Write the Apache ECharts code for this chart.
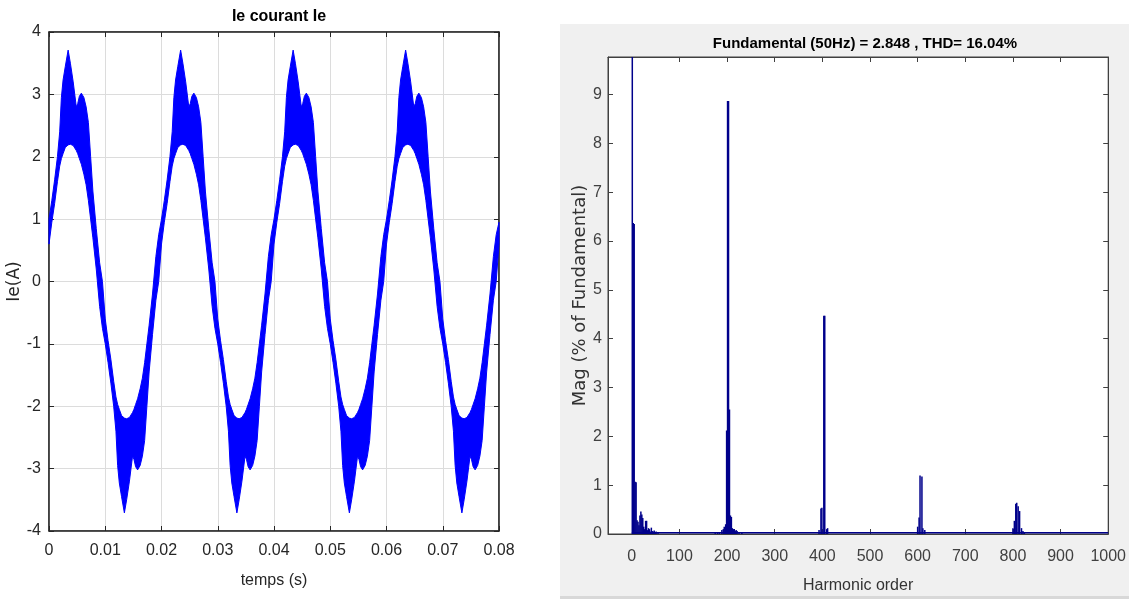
<!DOCTYPE html>
<html>
<head>
<meta charset="utf-8">
<script src="https://cdn.jsdelivr.net/npm/echarts@6/dist/echarts.min.js"></script>
<style>
  html, body {margin: 0; padding: 0; background: #fff;}
  #main {width: 1129px; height: 599px;}
</style>
</head>
<body>
<div id="main"></div>
<script>
// one 20 ms cycle of the current envelope (upper / lower edge of the ripple band)
const cycleTimesMs = [0, 0.5, 1.0, 1.5, 1.9, 2.2, 2.5, 2.9, 3.4, 3.8, 4.3, 4.85, 5.1, 5.4, 5.75, 6.2, 6.6, 7.0, 7.4, 7.8, 8.4, 9.0, 9.5,
  10, 10.5, 11.0, 11.5, 11.9, 12.2, 12.5, 12.9, 13.4, 13.8, 14.3, 14.85, 15.1, 15.4, 15.75, 16.2, 16.6, 17.0, 17.4, 17.8, 18.4, 19.0, 19.5]
const cycleUpper = [1.0, 1.3, 1.63, 2.0, 2.4, 2.95, 3.23, 3.45, 3.71, 3.5, 3.2, 2.8, 2.85, 2.97, 3.02, 2.95, 2.8, 2.55, 2.0, 1.45, 0.85, 0.3, 0.0,
  -0.6, -0.95, -1.25, -1.6, -1.85, -1.97, -2.05, -2.15, -2.19, -2.2, -2.18, -2.1, -2.05, -1.97, -1.88, -1.72, -1.55, -1.3, -1.0, -0.7, -0.2, 0.4, 0.75]
const cycleLower = [0.6, 0.95, 1.25, 1.6, 1.85, 1.97, 2.05, 2.15, 2.19, 2.2, 2.18, 2.1, 2.05, 1.97, 1.88, 1.72, 1.55, 1.3, 1.0, 0.7, 0.2, -0.4, -0.75,
  -1.0, -1.3, -1.63, -2.0, -2.4, -2.95, -3.23, -3.45, -3.71, -3.5, -3.2, -2.8, -2.85, -2.97, -3.02, -2.95, -2.8, -2.55, -2.0, -1.45, -0.85, -0.3, 0.0]
const cycleStarts = [0, 0.02, 0.04, 0.06]
const endTime = 0.08
const endUpper = 0.95
const endLower = 0.6

// FFT spectrum (harmonic order, % of fundamental)
const harmonicOrders = [1, 3, 5, 7, 9, 11, 13, 15, 17, 19, 21, 23, 25, 27, 29, 31, 33, 35, 37, 39, 41, 43, 45, 47, 49, 51, 55,
  175, 180, 184, 189, 192, 194, 197, 199, 201, 203, 205, 207, 209, 211, 213, 215, 217, 219, 221, 225, 231,
  393, 397, 399, 403, 405, 409, 411,
  600, 603, 605, 609, 611, 615,
  800, 803, 806, 808, 811, 814, 818, 821, 824]
const harmonicMags = [100, 6.37, 6.35, 1.07, 1.06, 0.28, 0.25, 0.18, 0.38, 0.46, 0.4, 0.33, 0.15, 0.1, 0.27, 0.27, 0.08, 0.12, 0.1, 0.05, 0.13, 0.06, 0.05, 0.07, 0.04, 0.05, 0.03,
  0.03, 0.04, 0.04, 0.08, 0.1, 0.15, 0.2, 2.12, 8.87, 8.87, 2.55, 0.38, 0.35, 0.12, 0.1, 0.1, 0.06, 0.08, 0.06, 0.04, 0.03,
  0.08, 0.52, 0.54, 4.47, 4.47, 0.1, 0.12,
  0.15, 0.34, 1.2, 1.18, 0.12, 0.08,
  0.12, 0.27, 0.62, 0.64, 0.57, 0.47, 0.12, 0.06, 0.04]
const floorOrders = [0, 1000]
const floorMags = [0.025, 0.025]
const harmonicTicks = [0, 100, 200, 300, 400, 500, 600, 700, 800, 900, 1000]

// rows of [time, lower, upper] for the filled band
const bandRows = []
cycleStarts.forEach(start => {
  cycleTimesMs.forEach((ms, i) => {
    bandRows.push([start + ms / 1000, cycleLower[i], cycleUpper[i]])
  })
})
bandRows.push([endTime, endLower, endUpper])

const barData = harmonicOrders.map((h, i) => [h, harmonicMags[i]])
const floorData = floorOrders.map((h, i) => [h, floorMags[i]])

const narrow = '"Liberation Sans", Arial, sans-serif'
const wide = '"DejaVu Sans", Verdana, sans-serif'
const dark = '#262626'
const navy = '#00008b'

// whole band as one polygon: upper edge forwards, lower edge backwards
function renderBand(params, api) {
  if (params.dataIndex !== 0) return
  const points = []
  bandRows.forEach(r => points.push(api.coord([r[0], r[2]])))
  for (let i = bandRows.length - 1; i >= 0; i--) {
    points.push(api.coord([bandRows[i][0], bandRows[i][1]]))
  }
  return {
    type: 'polygon',
    shape: {points: points},
    style: {fill: '#0000ff', stroke: '#0000ff', lineWidth: 1}
  }
}

const chart = echarts.init(document.getElementById('main'))
const option = {
  backgroundColor: '#ffffff',
  animation: false,
  graphic: [
    {type: 'rect', z: -10, shape: {x: 560, y: 24, width: 569, height: 572}, style: {fill: '#f0f0f0'}},
    {type: 'rect', z: -10, shape: {x: 560, y: 596, width: 569, height: 3}, style: {fill: '#d8d8d8'}}
  ],
  title: [
    {
      text: 'Ie courant Ie', left: 274, top: 4, textAlign: 'center',
      textStyle: {fontFamily: narrow, fontWeight: 'bold', fontSize: 16, color: '#000'}
    },
    {
      text: 'Fundamental (50Hz) = 2.848 , THD= 16.04%', left: 860, top: 31, textAlign: 'center',
      textStyle: {fontFamily: narrow, fontWeight: 'bold', fontSize: 15, color: '#000'}
    }
  ],
  grid: [
    {left: 49, top: 32, width: 450, height: 499, show: true, backgroundColor: '#fff', borderColor: dark, borderWidth: 1},
    {left: 608, top: 57, width: 505, height: 477, show: true, backgroundColor: '#fff', borderColor: '#404040', borderWidth: 1}
  ],
  xAxis: [
    {
      gridIndex: 0, type: 'value', min: 0, max: 0.08, interval: 0.01, position: 'bottom',
      name: 'temps (s)', nameLocation: 'middle', nameGap: 42,
      nameTextStyle: {fontFamily: narrow, fontSize: 16, color: dark},
      axisLine: {onZero: false, lineStyle: {color: dark, width: 1.5}},
      axisTick: {inside: true, length: 5, lineStyle: {color: dark}},
      axisLabel: {fontFamily: narrow, fontSize: 16, color: dark, margin: 12},
      splitLine: {show: true, lineStyle: {color: '#dcdcdc', width: 1}}
    },
    {
      gridIndex: 0, type: 'value', min: 0, max: 0.08, interval: 0.01, position: 'top',
      axisLine: {onZero: false, lineStyle: {color: dark, width: 1.5}},
      axisTick: {inside: true, length: 5, lineStyle: {color: dark}},
      axisLabel: {show: false}, splitLine: {show: false}
    },
    {
      gridIndex: 1, type: 'value', min: -50, max: 1000, position: 'bottom',
      name: 'Harmonic order', nameLocation: 'middle', nameGap: 44,
      nameTextStyle: {fontFamily: narrow, fontSize: 16, color: '#333'},
      axisLine: {onZero: false, lineStyle: {color: '#404040', width: 1}},
      axisTick: {inside: true, length: 5, customValues: harmonicTicks, lineStyle: {color: '#404040'}},
      axisLabel: {
        fontFamily: narrow, fontSize: 16, color: '#404040', margin: 15, customValues: harmonicTicks,
        formatter: v => String(v)
      },
      splitLine: {show: false}
    },
    {
      gridIndex: 1, type: 'value', min: -50, max: 1000, position: 'top',
      axisLine: {onZero: false, lineStyle: {color: '#404040', width: 1}},
      axisTick: {inside: true, length: 5, customValues: harmonicTicks, lineStyle: {color: '#404040'}},
      axisLabel: {show: false}, splitLine: {show: false}
    }
  ],
  yAxis: [
    {
      gridIndex: 0, type: 'value', min: -4, max: 4, interval: 1, position: 'left',
      name: 'Ie(A)', nameLocation: 'middle', nameGap: 18, nameRotate: 90,
      nameTextStyle: {fontFamily: wide, fontSize: 17, color: dark},
      axisLine: {onZero: false, lineStyle: {color: dark, width: 1.5}},
      axisTick: {inside: true, length: 5, lineStyle: {color: dark}},
      axisLabel: {fontFamily: narrow, fontSize: 16, color: dark, margin: 8},
      splitLine: {show: true, lineStyle: {color: '#dcdcdc', width: 1}}
    },
    {
      gridIndex: 0, type: 'value', min: -4, max: 4, interval: 1, position: 'right',
      axisLine: {onZero: false, lineStyle: {color: dark, width: 1.5}},
      axisTick: {inside: true, length: 5, lineStyle: {color: dark}},
      axisLabel: {show: false}, splitLine: {show: false}
    },
    {
      gridIndex: 1, type: 'value', min: 0, max: 9.77, interval: 1, position: 'left',
      name: 'Mag (% of Fundamental)', nameLocation: 'middle', nameGap: 12, nameRotate: 90,
      nameTextStyle: {fontFamily: wide, fontSize: 18, color: '#333'},
      axisLine: {onZero: false, lineStyle: {color: '#404040', width: 1}},
      axisTick: {inside: true, length: 5, lineStyle: {color: '#404040'}},
      axisLabel: {fontFamily: narrow, fontSize: 16, color: '#404040', margin: 6, showMaxLabel: false},
      splitLine: {show: false}
    },
    {
      gridIndex: 1, type: 'value', min: 0, max: 9.77, interval: 1, position: 'right',
      axisLine: {onZero: false, lineStyle: {color: '#404040', width: 1}},
      axisTick: {inside: true, length: 5, lineStyle: {color: '#404040'}},
      axisLabel: {show: false}, splitLine: {show: false}
    }
  ],
  series: [
    {
      name: 'Ie', type: 'custom', xAxisIndex: 0, yAxisIndex: 0, data: bandRows,
      renderItem: renderBand, encode: {x: 0, y: [1, 2]}, silent: true
    },
    {
      name: 'floor', type: 'line', xAxisIndex: 2, yAxisIndex: 2, data: floorData,
      showSymbol: false, silent: true, lineStyle: {color: navy, width: 1.5}
    },
    {
      name: 'spectrum', type: 'bar', xAxisIndex: 2, yAxisIndex: 2, data: barData,
      barWidth: 1.5, clip: true, silent: true, itemStyle: {color: navy}
    }
  ]
}
option && chart.setOption(option)
</script>
</body>
</html>
